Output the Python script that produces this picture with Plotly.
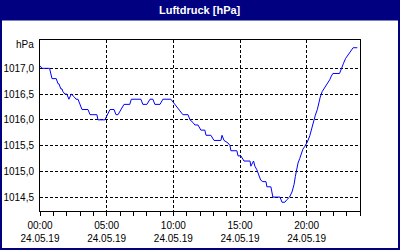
import plotly.graph_objects as go

# ---- data ----
times = ["00:00","00:09","00:43","00:54","01:13","01:21","01:25","01:34","01:39","01:43",
         "01:52","02:01","02:10","02:21","02:33","02:42","02:51","03:00","03:09","03:36",
         "03:45","04:16","04:21","04:52","05:03","05:15","05:33","05:42","05:51","06:04",
         "06:18","06:44","06:51","07:34","07:43","08:01","08:15","08:28","08:37","09:00",
         "09:13","09:49","10:07","10:21","10:34","10:43","11:06","11:15","11:28","11:37",
         "11:51","12:00","12:04","12:22","12:27","12:49","12:58","13:03","13:34","13:39",
         "13:48","14:06","14:15","14:19","14:46","14:51","15:04","15:18","15:45","15:49",
         "16:01","16:07","16:16","16:25","16:33","16:43","16:57","17:01","17:19","17:28",
         "18:00","18:09","18:22","18:31","18:43","18:54","19:03","19:09","19:13","19:21",
         "19:29","19:36","19:43","19:51","20:03","20:14","20:21","20:29","20:39","20:48",
         "20:54","21:01","21:10","21:21","21:33","21:44","21:51","21:58","22:28","22:36",
         "22:46","22:55","23:06","23:14","23:24","23:29","23:48"]
pressure = [1017.05,1017.0,1017.0,1016.8,1016.8,1016.7,1016.7,1016.6,1016.6,1016.55,
            1016.5,1016.5,1016.4,1016.5,1016.45,1016.4,1016.4,1016.3,1016.2,1016.2,
            1016.1,1016.1,1016.0,1016.0,1016.1,1016.2,1016.2,1016.1,1016.1,1016.2,
            1016.3,1016.3,1016.4,1016.4,1016.3,1016.3,1016.4,1016.4,1016.3,1016.3,
            1016.4,1016.4,1016.3,1016.22,1016.16,1016.1,1016.1,1016.0,1015.95,1015.9,
            1015.9,1015.82,1015.8,1015.8,1015.7,1015.7,1015.65,1015.6,1015.6,1015.7,
            1015.6,1015.55,1015.5,1015.4,1015.4,1015.3,1015.3,1015.2,1015.2,1015.1,
            1015.2,1015.1,1015.03,1014.93,1014.83,1014.8,1014.8,1014.7,1014.7,1014.5,
            1014.5,1014.4,1014.4,1014.45,1014.5,1014.6,1014.74,1014.9,1015.0,1015.16,
            1015.25,1015.35,1015.43,1015.48,1015.57,1015.69,1015.8,1015.96,1016.09,1016.2,
            1016.33,1016.44,1016.55,1016.62,1016.7,1016.78,1016.85,1016.9,1016.9,1017.0,
            1017.1,1017.19,1017.26,1017.32,1017.38,1017.4,1017.4]
date = "2019-05-24"
x_tick_hours = ["00:00", "05:00", "10:00", "15:00", "20:00"]
x_tick_dates = ["24.05.19"] * 5
y_ticks = [1014.5, 1015.0, 1015.5, 1016.0, 1016.5, 1017.0]
y_ticktext = [f"{v:.1f}".replace(".", ",") for v in y_ticks]
title = "Luftdruck [hPa]"
unit = "hPa"

# ---- layout geometry ----
W, H = 400, 250
L, R, T, B = 40, 360, 40, 211
NAVY = "#000080"
FONT = "Liberation Sans, Arial, sans-serif"

def px(x):
    return (x - L) / (R - L)

def py(y):
    return (B - y) / (B - T)

xs = [f"{date} {t}" for t in times]
tickvals = [f"{date} {t}" for t in x_tick_hours]

fig = go.Figure()
fig.add_trace(go.Scatter(x=xs, y=pressure, mode="lines",
                         line=dict(color="#0000FF", width=1), hoverinfo="skip"))

xrange = [f"{date} 00:00", "2019-05-25 00:00"]
grid = dict(showgrid=True, gridcolor="black", gridwidth=1, griddash="3px,2px")

fig.update_layout(
    width=W, height=H,
    margin=dict(l=L, r=W - R, t=T, b=H - B, autoexpand=False),
    paper_bgcolor="white", plot_bgcolor="white",
    showlegend=False,
    font=dict(family=FONT, size=10, color="black"),
    xaxis=dict(type="date", range=xrange, tickmode="array", tickvals=tickvals,
               ticktext=x_tick_hours, ticks="outside", ticklen=4, tickcolor="black",
               showline=True, linecolor="black", linewidth=1, mirror=True,
               zeroline=False, ticklabelstandoff=1, automargin=False,
               minor=dict(tickmode="linear", tick0=f"{date} 00:00", dtick=3600000,
                          ticks="outside", ticklen=4, tickcolor="black", showgrid=False),
               **grid),
    xaxis2=dict(type="date", range=xrange, tickmode="array", tickvals=tickvals,
                ticktext=x_tick_dates, overlaying="x", side="bottom", anchor="y",
                showgrid=False, showline=False, ticks="", zeroline=False,
                ticklabelstandoff=20, automargin=False),
    yaxis=dict(range=[1014.23, 1017.55], tickmode="array", tickvals=y_ticks,
               ticktext=y_ticktext, ticks="", showline=True, linecolor="black",
               linewidth=1, mirror=True, zeroline=False, ticklabelstandoff=3,
               automargin=False, **grid),
)

# invisible trace so the date axis renders
fig.add_trace(go.Scatter(x=[xs[0]], y=[pressure[0]], xaxis="x2", mode="markers",
                         marker=dict(opacity=0), hoverinfo="skip"))

fig.add_shape(type="rect", xref="paper", yref="paper",
              x0=px(0), x1=px(W), y0=py(0), y1=py(20.5),
              fillcolor=NAVY, line=dict(width=0), layer="below")
fig.add_shape(type="rect", xref="paper", yref="paper",
              x0=px(1), x1=px(W - 1), y0=py(1), y1=py(H - 1),
              line=dict(color=NAVY, width=2), fillcolor="rgba(0,0,0,0)")

fig.add_annotation(text=f"<b>{title}</b>", xref="paper", yref="paper",
                   x=px(200), y=py(9.5), xanchor="center", yanchor="middle",
                   showarrow=False, font=dict(family=FONT, size=11, color="white"))
fig.add_annotation(text=unit, xref="paper", yref="paper",
                   x=px(36), y=py(44.5), xanchor="right", yanchor="middle",
                   showarrow=False, font=dict(family=FONT, size=10, color="black"))

fig.write_html("out.html")
